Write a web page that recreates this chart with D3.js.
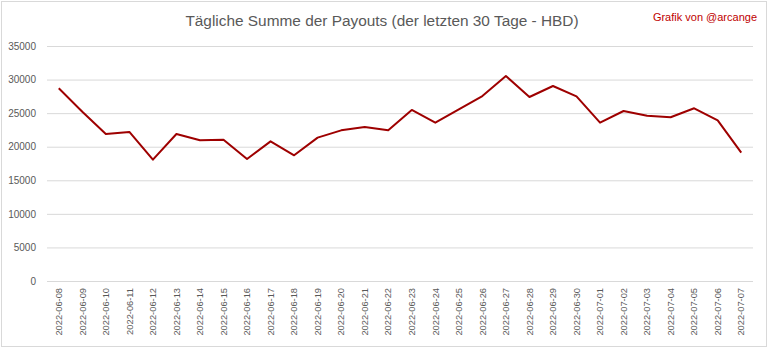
<!DOCTYPE html>
<html>
<head>
<meta charset="utf-8">
<script src="https://cdn.jsdelivr.net/npm/d3@7"></script>
<style>
  html, body { margin: 0; padding: 0; background: #fff; }
  svg { display: block; }
</style>
</head>
<body>
<svg id="chart" width="768" height="349"></svg>
<script>
// Daily payout totals (HBD) for the last 30 days
const dates = [
  "2022-06-08","2022-06-09","2022-06-10","2022-06-11","2022-06-12","2022-06-13",
  "2022-06-14","2022-06-15","2022-06-16","2022-06-17","2022-06-18","2022-06-19",
  "2022-06-20","2022-06-21","2022-06-22","2022-06-23","2022-06-24","2022-06-25",
  "2022-06-26","2022-06-27","2022-06-28","2022-06-29","2022-06-30","2022-07-01",
  "2022-07-02","2022-07-03","2022-07-04","2022-07-05","2022-07-06","2022-07-07"
];
const payouts = [
  28700, 25200, 21900, 22200, 18070, 21900,
  20950, 21050, 18170, 20800, 18720, 21350,
  22440, 22940, 22440, 25470, 23580, 25570,
  27550, 30530, 27400, 29040, 27500, 23580,
  25320, 24620, 24380, 25720, 23930, 19110
];
const yTicks = [0, 5000, 10000, 15000, 20000, 25000, 30000, 35000];
const titleText = "Tägliche Summe der Payouts (der letzten 30 Tage - HBD)";
const creditText = "Grafik von @arcange";

const svg = d3.select("#chart");
const W = 768, H = 349;
const plot = { left: 47, right: 753, top: 46, bottom: 281 };

// outer frame
svg.append("rect")
  .attr("x", 1.5).attr("y", 1.5)
  .attr("width", W - 3).attr("height", H - 4)
  .attr("fill", "#fff").attr("stroke", "#d9d9d9").attr("stroke-width", 1);

const x = d3.scaleBand().domain(dates).range([plot.left, plot.right]);
const y = d3.scaleLinear().domain([0, 35000]).range([plot.bottom, plot.top]);

// horizontal gridlines with value labels
const yAxis = d3.axisLeft(y).tickValues(yTicks).tickFormat(d3.format("d"))
  .tickSize(-(plot.right - plot.left)).tickPadding(11);
const gy = svg.append("g").attr("transform", `translate(${plot.left},0)`).call(yAxis);
gy.select(".domain").remove();
gy.selectAll(".tick line").attr("stroke", "#d9d9d9").attr("stroke-width", 1);
gy.selectAll(".tick text")
  .attr("fill", "#595959")
  .style("font-family", "'Liberation Sans', Arial, sans-serif")
  .style("font-size", "10px");

// rotated date labels
const xAxis = d3.axisBottom(x).tickSize(0).tickPadding(0);
const gx = svg.append("g").attr("transform", `translate(0,${plot.bottom})`).call(xAxis);
gx.select(".domain").remove();
gx.selectAll(".tick text")
  .attr("fill", "#595959")
  .style("font-family", "'Liberation Sans', Arial, sans-serif")
  .style("font-size", "9.3px")
  .attr("text-anchor", "end")
  .attr("dy", "0.35em")
  .attr("transform", "translate(0,7) rotate(-90)")
  .attr("x", 0).attr("y", 0);

// payout line
const line = d3.line()
  .x((d, i) => x(dates[i]) + x.bandwidth() / 2)
  .y(d => y(d));
svg.append("path")
  .datum(payouts)
  .attr("d", line)
  .attr("fill", "none")
  .attr("stroke", "#9e0000")
  .attr("stroke-width", 2)
  .attr("stroke-linejoin", "round");

// title and credit
svg.append("text")
  .attr("x", 382).attr("y", 26)
  .attr("text-anchor", "middle")
  .attr("fill", "#595959")
  .style("font-family", "'Liberation Sans', Arial, sans-serif")
  .style("font-size", "15.4px")
  .text(titleText);

svg.append("text")
  .attr("x", 757).attr("y", 21)
  .attr("text-anchor", "end")
  .attr("fill", "#c00000")
  .style("font-family", "'Liberation Sans', Arial, sans-serif")
  .style("font-size", "11px")
  .text(creditText);
</script>
</body>
</html>
